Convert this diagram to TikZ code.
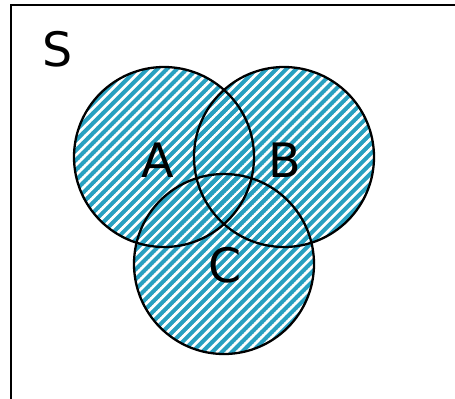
\documentclass[tikz,border=0pt]{standalone}
\usepackage{fontspec}
\setmainfont{DejaVu Sans}
\usetikzlibrary{patterns.meta,positioning}
\definecolor{venn}{RGB}{40,160,192}
\tikzdeclarepattern{name=vennbrick, type=uncolored,
  bottom left={(-.1pt,-.1pt)}, top right={(4.1pt,4.1pt)},
  tile size={(4pt,4pt)}, tile transformation={rotate=45},
  code={\fill (-.1pt,0pt) rectangle (4.1pt,2.3pt);}}

\begin{document}
\begin{tikzpicture}[set/.style={circle, minimum size=3.6cm, pattern={vennbrick}, pattern color=venn},
  rim/.style={draw, circle, line width=1.3pt, minimum size=3.6cm},
  lbl/.style={font=\fontsize{27}{31}\selectfont, inner sep=0pt}]
\useasboundingbox (0,0) rectangle (9.1,-7.96);
\clip (0,0) rectangle (9.1,-7.96);
\draw[line width=1.7pt] (0.22,-9) |- (9.5,-0.1);
\node[set] (A) at (3.28,-3.14) {};
\node[set] (B) at (5.68,-3.14) {};
\node[set] (C) at (4.48,-5.28) {};
\foreach \n in {A,B,C}
  \node[rim] at (\n) {};
\node[lbl] (S) at (1.16,-0.98) {S};
\node[lbl] (a) at (3.16,-3.2) {A};
\node[lbl] (b) at (5.7,-3.2) {B};
\node[lbl] (c) at (4.5,-5.3) {C};
\end{tikzpicture}
\end{document}
